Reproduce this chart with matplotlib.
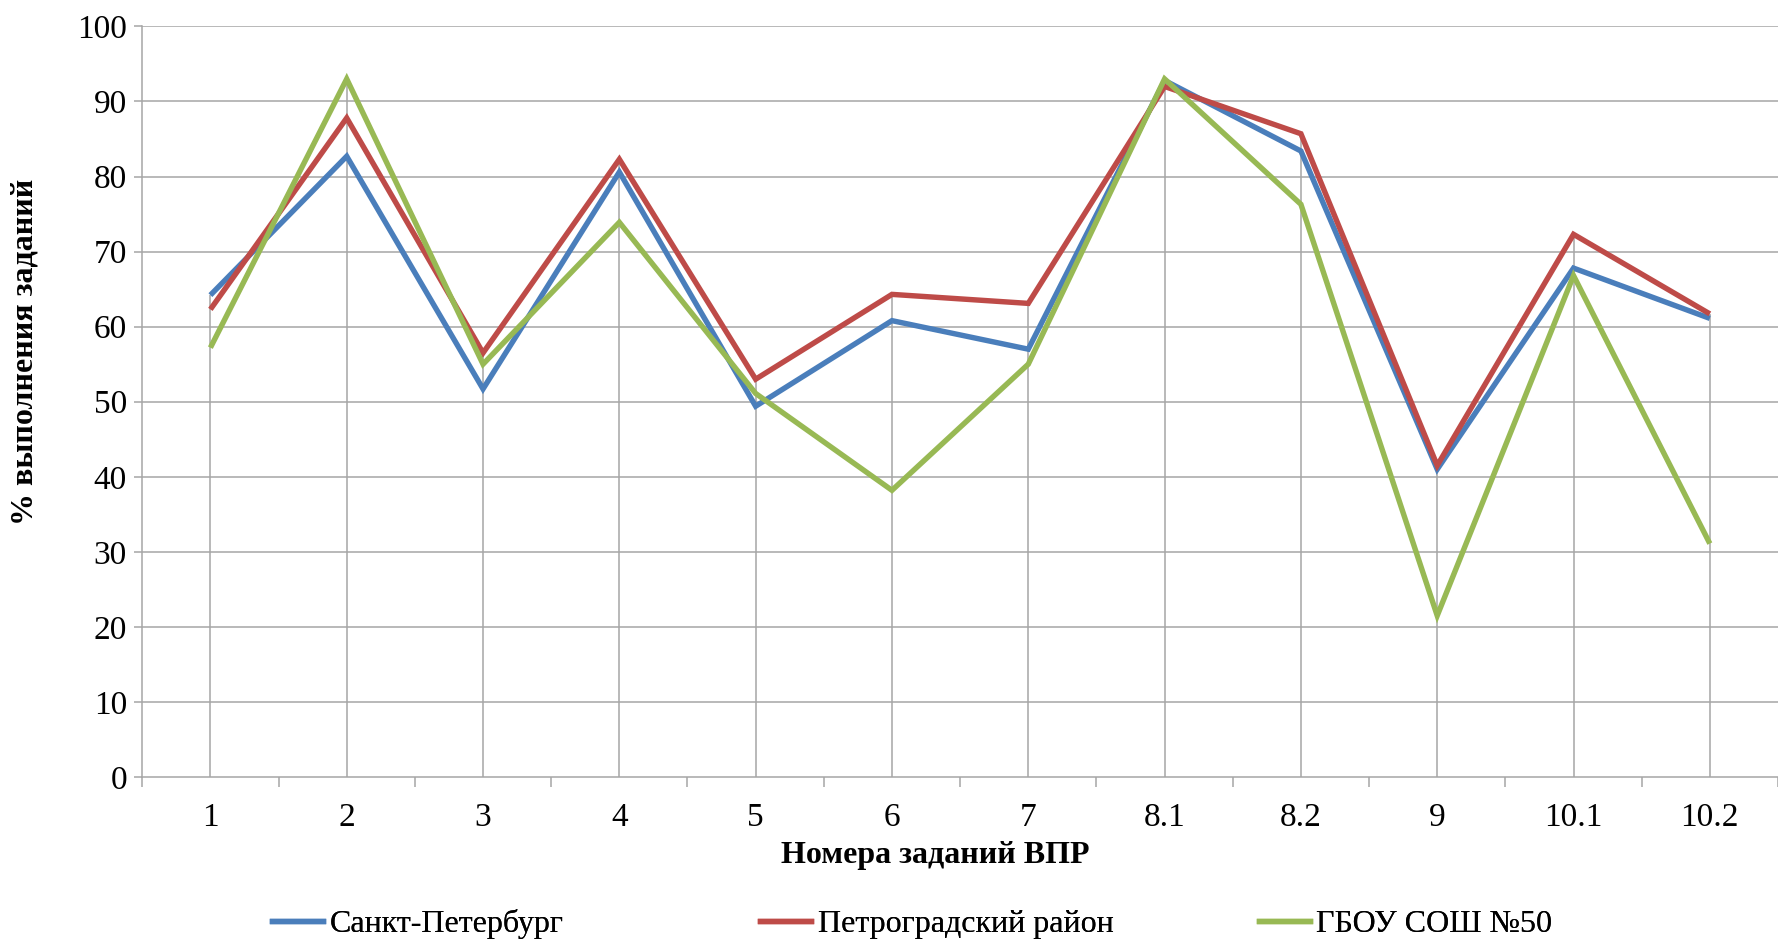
import matplotlib
matplotlib.use("Agg")
import matplotlib.pyplot as plt
from matplotlib.lines import Line2D


# -----------------------------
# Data
# -----------------------------

tasks = ["1", "2", "3", "4", "5", "6", "7", "8.1", "8.2", "9", "10.1", "10.2"]

spb = [64.2, 82.7, 51.7, 80.6, 49.4, 60.8, 57.0, 92.8, 83.4, 41.0, 67.8, 61.1]
petrograd = [62.3, 87.8, 56.5, 82.3, 53.0, 64.3, 63.1, 92.0, 85.7, 41.5, 72.3, 61.7]
school = [57.2, 93.0, 55.0, 73.9, 51.1, 38.2, 55.0, 93.0, 76.3, 21.5, 66.8, 31.1]

names = ["Санкт-Петербург", "Петроградский район", "ГБОУ СОШ №50"]
colors = ["#4a7ebb", "#be4b48", "#98b954"]

yticks = [0, 10, 20, 30, 40, 50, 60, 70, 80, 90, 100]


# -----------------------------
# Style
# -----------------------------

plt.rcParams["font.family"] = ["Liberation Serif", "DejaVu Serif"]
plt.rcParams["font.size"] = 23

grid_col = "#a6a6a6"

fig = plt.figure(figsize=(17.78, 9.43), dpi=100)
ax = fig.add_axes([0.080, 0.176, 0.920, 0.796])

x = list(range(len(tasks)))

# horizontal gridlines
for v in yticks[1:]:
    ax.axhline(v, color=grid_col, linewidth=1.1, zorder=1)

# drop lines from the highest point to the axis
tops = [max(a, b, c) for a, b, c in zip(spb, petrograd, school)]
ax.vlines(x, 0, tops, color=grid_col, linewidth=1.1, zorder=1)

# series
handles = []
for vals, name, col in zip([spb, petrograd, school], names, colors):
    ax.plot(x, vals, color=col, linewidth=3.9, solid_joinstyle="miter",
            solid_capstyle="butt", zorder=3)
    handles.append(Line2D([0], [0], color=col, linewidth=3.9))

ax.set_xlim(-0.5, len(tasks) - 0.5)
ax.set_ylim(0, 100)

# axes
for s in ["top", "right"]:
    ax.spines[s].set_visible(False)
for s in ["left", "bottom"]:
    ax.spines[s].set_color(grid_col)
    ax.spines[s].set_linewidth(1.1)

ax.set_yticks(yticks)
ax.tick_params(axis="y", direction="out", length=6, width=1.1,
               color=grid_col, pad=5, labelsize=24)

ax.set_xticks(x)
ax.set_xticklabels(tasks)
ax.set_xticks([i - 0.5 for i in range(len(tasks) + 1)], minor=True)
ax.tick_params(axis="x", which="major", length=0, pad=18, labelsize=24)
ax.tick_params(axis="x", which="minor", direction="out", length=7,
               width=1.1, color=grid_col)

# axis titles
fig.text(0.526, 1 - 856 / 943, "Номера заданий ВПР", ha="center",
         va="center", fontweight="bold")
fig.text(25 / 1778, 1 - 352 / 943, "% выполнения заданий", ha="center",
         va="center", rotation=90, fontweight="bold")

# legend, one slot per series
slots = [272, 760, 1259]
for h, name, sx in zip(handles, names, slots):
    leg = fig.legend([h], [name], loc="center left",
                     bbox_to_anchor=(sx / 1778, 1 - 924 / 943),
                     frameon=False, handlelength=1.6, handletextpad=0.2,
                     borderpad=0, borderaxespad=0)
    fig.add_artist(leg)

fig.savefig("out.png", dpi=100)
